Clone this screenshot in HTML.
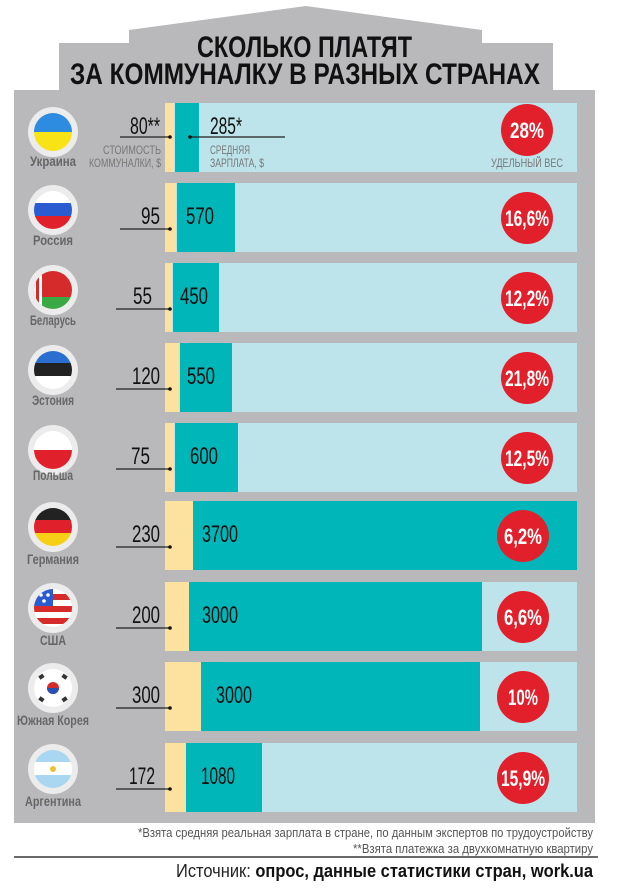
<!DOCTYPE html>
<html><head><meta charset="utf-8"><style>
html,body{margin:0;padding:0;background:#fff;}
svg{display:block;font-family:"Liberation Sans",sans-serif;}
</style></head><body>
<svg width="620" height="891" viewBox="0 0 620 891" xmlns="http://www.w3.org/2000/svg">
<defs>
<clipPath id="fc"><circle cx="0" cy="0" r="19"/></clipPath>
</defs>
<polygon points="129,30 306,6 482,30 482,43 553,43 553,90 595,90 595,823 14,823 14,90 59,90 59,43 129,43" fill="#b9b9bb"/>
<text x="197" y="57" font-size="30" font-weight="bold" fill="#111" textLength="215" lengthAdjust="spacingAndGlyphs">СКОЛЬКО ПЛАТЯТ</text>
<text x="70" y="84" font-size="30" font-weight="bold" fill="#111" textLength="470" lengthAdjust="spacingAndGlyphs">ЗА КОММУНАЛКУ В РАЗНЫХ СТРАНАХ</text>

<g transform="translate(0,103)">
<rect x="165" y="0" width="412" height="69" fill="#bde4ea"/>
<rect x="165" y="0" width="9" height="69" fill="#fde19e"/>
<rect x="175" y="0" width="24" height="69" fill="#00b6b9"/>
<text x="160" y="31" font-size="24" text-anchor="end" fill="#111" textLength="30" lengthAdjust="spacingAndGlyphs">80**</text>
<line x1="120" y1="34" x2="170" y2="34" stroke="#222" stroke-width="1.3"/><circle cx="170" cy="34" r="1.8" fill="#111"/>
<text x="210" y="31" font-size="24" fill="#111" textLength="32" lengthAdjust="spacingAndGlyphs">285*</text>
<line x1="190" y1="34" x2="285" y2="34" stroke="#222" stroke-width="1.3"/><circle cx="190" cy="34" r="1.8" fill="#111"/>
<text x="161" y="51" font-size="12" text-anchor="end" fill="#777" textLength="58" lengthAdjust="spacingAndGlyphs">СТОИМОСТЬ</text>
<text x="161" y="64" font-size="12" text-anchor="end" fill="#777" textLength="72" lengthAdjust="spacingAndGlyphs">КОММУНАЛКИ, $</text>
<text x="210" y="51" font-size="12" fill="#777" textLength="40" lengthAdjust="spacingAndGlyphs">СРЕДНЯЯ</text>
<text x="210" y="64" font-size="12" fill="#777" textLength="54" lengthAdjust="spacingAndGlyphs">ЗАРПЛАТА, $</text>
<circle cx="527" cy="27" r="26" fill="#e2202b"/>
<text x="527" y="35" font-size="22" font-weight="bold" fill="#fff" text-anchor="middle" textLength="34" lengthAdjust="spacingAndGlyphs">28%</text>
<text x="527" y="64" font-size="12" fill="#777" text-anchor="middle" textLength="72" lengthAdjust="spacingAndGlyphs">УДЕЛЬНЫЙ ВЕС</text>
<circle cx="53" cy="29" r="25" fill="#ececec"/>
<g transform="translate(53,29)" clip-path="url(#fc)"><rect x="-20" y="-20" width="40" height="20" fill="#2d8be0"/><rect x="-20" y="0" width="40" height="20" fill="#f7e316"/></g>
<text x="53" y="63" font-size="14" font-weight="bold" fill="#666" text-anchor="middle" textLength="46" lengthAdjust="spacingAndGlyphs">Украина</text>
</g>

<g transform="translate(0,183)">
<rect x="165" y="0" width="412" height="69" fill="#bde4ea"/><rect x="165" y="0" width="11" height="69" fill="#fde19e"/><rect x="177" y="0" width="58" height="69" fill="#00b6b9"/>
<text x="160" y="41" font-size="24" text-anchor="end" fill="#111" textLength="19" lengthAdjust="spacingAndGlyphs">95</text>
<line x1="120" y1="46" x2="170" y2="46" stroke="#222" stroke-width="1.3"/><circle cx="170" cy="46" r="1.8" fill="#111"/>
<text x="186" y="41" font-size="24" fill="#111" textLength="28" lengthAdjust="spacingAndGlyphs">570</text>
<circle cx="527" cy="35" r="26" fill="#e2202b"/><text x="527" y="43" font-size="22" font-weight="bold" fill="#fff" text-anchor="middle" textLength="44" lengthAdjust="spacingAndGlyphs">16,6%</text>
<circle cx="53" cy="27" r="25" fill="#ececec"/>
<g transform="translate(53,27)" clip-path="url(#fc)"><rect x="-20" y="-20" width="40" height="14" fill="#fff"/><rect x="-20" y="-7" width="40" height="14" fill="#2a5bd0"/><rect x="-20" y="6" width="40" height="14" fill="#e0202a"/></g>
<text x="53" y="62" font-size="14" font-weight="bold" fill="#666" text-anchor="middle" textLength="40" lengthAdjust="spacingAndGlyphs">Россия</text>
</g>

<g transform="translate(0,263)">
<rect x="165" y="0" width="412" height="69" fill="#bde4ea"/><rect x="165" y="0" width="7" height="69" fill="#fde19e"/><rect x="173" y="0" width="46" height="69" fill="#00b6b9"/>
<text x="152" y="41" font-size="24" text-anchor="end" fill="#111" textLength="19" lengthAdjust="spacingAndGlyphs">55</text>
<line x1="116" y1="46" x2="170" y2="46" stroke="#222" stroke-width="1.3"/><circle cx="170" cy="46" r="1.8" fill="#111"/>
<text x="180" y="41" font-size="24" fill="#111" textLength="28" lengthAdjust="spacingAndGlyphs">450</text>
<circle cx="527" cy="35" r="26" fill="#e2202b"/><text x="527" y="43" font-size="22" font-weight="bold" fill="#fff" text-anchor="middle" textLength="44" lengthAdjust="spacingAndGlyphs">12,2%</text>
<circle cx="53" cy="27" r="25" fill="#ececec"/>
<g transform="translate(53,27)" clip-path="url(#fc)"><rect x="-20" y="-20" width="40" height="27" fill="#d52b2b"/><rect x="-20" y="7" width="40" height="13" fill="#3aa843"/><rect x="-20" y="-20" width="9" height="40" fill="#fff"/><rect x="-17" y="-20" width="3" height="40" fill="#d52b2b"/></g>
<text x="53" y="62" font-size="14" font-weight="bold" fill="#666" text-anchor="middle" textLength="46" lengthAdjust="spacingAndGlyphs">Беларусь</text>
</g>

<g transform="translate(0,343)">
<rect x="165" y="0" width="412" height="69" fill="#bde4ea"/><rect x="165" y="0" width="14" height="69" fill="#fde19e"/><rect x="180" y="0" width="52" height="69" fill="#00b6b9"/>
<text x="160" y="41" font-size="24" text-anchor="end" fill="#111" textLength="28" lengthAdjust="spacingAndGlyphs">120</text>
<line x1="116" y1="46" x2="170" y2="46" stroke="#222" stroke-width="1.3"/><circle cx="170" cy="46" r="1.8" fill="#111"/>
<text x="187" y="41" font-size="24" fill="#111" textLength="28" lengthAdjust="spacingAndGlyphs">550</text>
<circle cx="527" cy="35" r="26" fill="#e2202b"/><text x="527" y="43" font-size="22" font-weight="bold" fill="#fff" text-anchor="middle" textLength="44" lengthAdjust="spacingAndGlyphs">21,8%</text>
<circle cx="53" cy="27" r="25" fill="#ececec"/>
<g transform="translate(53,27)" clip-path="url(#fc)"><rect x="-20" y="-20" width="40" height="14" fill="#2a6fd0"/><rect x="-20" y="-7" width="40" height="14" fill="#222"/><rect x="-20" y="6" width="40" height="14" fill="#fff"/></g>
<text x="53" y="62" font-size="14" font-weight="bold" fill="#666" text-anchor="middle" textLength="42" lengthAdjust="spacingAndGlyphs">Эстония</text>
</g>

<g transform="translate(0,423)">
<rect x="165" y="0" width="412" height="69" fill="#bde4ea"/><rect x="165" y="0" width="9" height="69" fill="#fde19e"/><rect x="175" y="0" width="63" height="69" fill="#00b6b9"/>
<text x="150" y="41" font-size="24" text-anchor="end" fill="#111" textLength="19" lengthAdjust="spacingAndGlyphs">75</text>
<line x1="116" y1="46" x2="170" y2="46" stroke="#222" stroke-width="1.3"/><circle cx="170" cy="46" r="1.8" fill="#111"/>
<text x="190" y="41" font-size="24" fill="#111" textLength="28" lengthAdjust="spacingAndGlyphs">600</text>
<circle cx="527" cy="35" r="26" fill="#e2202b"/><text x="527" y="43" font-size="22" font-weight="bold" fill="#fff" text-anchor="middle" textLength="44" lengthAdjust="spacingAndGlyphs">12,5%</text>
<circle cx="53" cy="27" r="25" fill="#ececec"/>
<g transform="translate(53,27)" clip-path="url(#fc)"><rect x="-20" y="-20" width="40" height="20" fill="#fff"/><rect x="-20" y="0" width="40" height="20" fill="#e0202a"/></g>
<text x="53" y="57" font-size="14" font-weight="bold" fill="#666" text-anchor="middle" textLength="40" lengthAdjust="spacingAndGlyphs">Польша</text>
</g>

<g transform="translate(0,501)">
<rect x="165" y="0" width="412" height="69" fill="#bde4ea"/><rect x="165" y="0" width="28" height="69" fill="#fde19e"/><rect x="193" y="0" width="384" height="69" fill="#00b6b9"/>
<text x="160" y="41" font-size="24" text-anchor="end" fill="#111" textLength="28" lengthAdjust="spacingAndGlyphs">230</text>
<line x1="116" y1="46" x2="170" y2="46" stroke="#222" stroke-width="1.3"/><circle cx="170" cy="46" r="1.8" fill="#111"/>
<text x="202" y="41" font-size="24" fill="#111" textLength="36" lengthAdjust="spacingAndGlyphs">3700</text>
<circle cx="523" cy="35" r="26" fill="#e2202b"/><text x="523" y="43" font-size="22" font-weight="bold" fill="#fff" text-anchor="middle" textLength="38" lengthAdjust="spacingAndGlyphs">6,2%</text>
<circle cx="53" cy="26" r="25" fill="#ececec"/>
<g transform="translate(53,26)" clip-path="url(#fc)"><rect x="-20" y="-20" width="40" height="14" fill="#222"/><rect x="-20" y="-7" width="40" height="14" fill="#e0202a"/><rect x="-20" y="6" width="40" height="14" fill="#f7cf16"/></g>
<text x="53" y="63" font-size="14" font-weight="bold" fill="#666" text-anchor="middle" textLength="52" lengthAdjust="spacingAndGlyphs">Германия</text>
</g>

<g transform="translate(0,582)">
<rect x="165" y="0" width="412" height="69" fill="#bde4ea"/><rect x="165" y="0" width="24" height="69" fill="#fde19e"/><rect x="189" y="0" width="293" height="69" fill="#00b6b9"/>
<text x="160" y="41" font-size="24" text-anchor="end" fill="#111" textLength="28" lengthAdjust="spacingAndGlyphs">200</text>
<line x1="116" y1="46" x2="170" y2="46" stroke="#222" stroke-width="1.3"/><circle cx="170" cy="46" r="1.8" fill="#111"/>
<text x="202" y="41" font-size="24" fill="#111" textLength="36" lengthAdjust="spacingAndGlyphs">3000</text>
<circle cx="523" cy="35" r="26" fill="#e2202b"/><text x="523" y="43" font-size="22" font-weight="bold" fill="#fff" text-anchor="middle" textLength="38" lengthAdjust="spacingAndGlyphs">6,6%</text>
<circle cx="53" cy="26" r="25" fill="#ececec"/>
<g transform="translate(53,26)" clip-path="url(#fc)"><rect x="-20" y="-20" width="40" height="40" fill="#fff"/><rect x="-20" y="-14" width="40" height="6" fill="#d52b2b"/><rect x="-20" y="-2" width="40" height="6" fill="#d52b2b"/><rect x="-20" y="10" width="40" height="6" fill="#d52b2b"/><rect x="-20" y="-20" width="20" height="18" fill="#2a5bd0"/><circle cx="-12" cy="-13" r="1.8" fill="#fff"/><circle cx="-5" cy="-13" r="1.8" fill="#fff"/><circle cx="-9" cy="-7" r="1.8" fill="#fff"/></g>
<text x="53" y="63" font-size="14" font-weight="bold" fill="#666" text-anchor="middle" textLength="26" lengthAdjust="spacingAndGlyphs">США</text>
</g>

<g transform="translate(0,662)">
<rect x="165" y="0" width="412" height="69" fill="#bde4ea"/><rect x="165" y="0" width="36" height="69" fill="#fde19e"/><rect x="201" y="0" width="279" height="69" fill="#00b6b9"/>
<text x="160" y="41" font-size="24" text-anchor="end" fill="#111" textLength="28" lengthAdjust="spacingAndGlyphs">300</text>
<line x1="116" y1="46" x2="170" y2="46" stroke="#222" stroke-width="1.3"/><circle cx="170" cy="46" r="1.8" fill="#111"/>
<text x="216" y="41" font-size="24" fill="#111" textLength="36" lengthAdjust="spacingAndGlyphs">3000</text>
<circle cx="523" cy="35" r="26" fill="#e2202b"/><text x="523" y="43" font-size="22" font-weight="bold" fill="#fff" text-anchor="middle" textLength="30" lengthAdjust="spacingAndGlyphs">10%</text>
<circle cx="53" cy="26" r="25" fill="#ececec"/>
<g transform="translate(53,26)" clip-path="url(#fc)"><rect x="-20" y="-20" width="40" height="40" fill="#fff"/><circle r="6" fill="#d52b2b"/><path d="M-6,0 A6,6 0 0,0 6,0 Z" fill="#2a4fb0"/><rect x="-14" y="-13" width="5" height="4" fill="#333" transform="rotate(-35 -12 -11)"/><rect x="9" y="-13" width="5" height="4" fill="#333" transform="rotate(35 12 -11)"/><rect x="-14" y="9" width="5" height="4" fill="#333" transform="rotate(35 -12 11)"/><rect x="9" y="9" width="5" height="4" fill="#333" transform="rotate(-35 12 11)"/></g>
<text x="53" y="63" font-size="14" font-weight="bold" fill="#666" text-anchor="middle" textLength="72" lengthAdjust="spacingAndGlyphs">Южная Корея</text>
</g>

<g transform="translate(0,743)">
<rect x="165" y="0" width="412" height="69" fill="#bde4ea"/><rect x="165" y="0" width="21" height="69" fill="#fde19e"/><rect x="186" y="0" width="76" height="69" fill="#00b6b9"/>
<text x="155" y="41" font-size="24" text-anchor="end" fill="#111" textLength="26" lengthAdjust="spacingAndGlyphs">172</text>
<line x1="116" y1="46" x2="170" y2="46" stroke="#222" stroke-width="1.3"/><circle cx="170" cy="46" r="1.8" fill="#111"/>
<text x="201" y="41" font-size="24" fill="#111" textLength="34" lengthAdjust="spacingAndGlyphs">1080</text>
<circle cx="523" cy="35" r="26" fill="#e2202b"/><text x="523" y="43" font-size="22" font-weight="bold" fill="#fff" text-anchor="middle" textLength="44" lengthAdjust="spacingAndGlyphs">15,9%</text>
<circle cx="53" cy="26" r="25" fill="#ececec"/>
<g transform="translate(53,26)" clip-path="url(#fc)"><rect x="-20" y="-20" width="40" height="14" fill="#a9d6f0"/><rect x="-20" y="-7" width="40" height="14" fill="#fff"/><rect x="-20" y="6" width="40" height="14" fill="#a9d6f0"/><circle r="3" fill="#f0c030"/></g>
<text x="53" y="63" font-size="14" font-weight="bold" fill="#666" text-anchor="middle" textLength="56" lengthAdjust="spacingAndGlyphs">Аргентина</text>
</g>

<text x="593" y="837" font-size="13" fill="#555" text-anchor="end" textLength="455" lengthAdjust="spacingAndGlyphs">*Взята средняя реальная зарплата в стране, по данным экспертов по трудоустройству</text>
<text x="593" y="853" font-size="13" fill="#555" text-anchor="end" textLength="240" lengthAdjust="spacingAndGlyphs">**Взята платежка за двухкомнатную квартиру</text>
<line x1="14" y1="857" x2="598" y2="857" stroke="#111" stroke-width="1.2"/>
<text x="593" y="877" font-size="18" fill="#222" text-anchor="end" textLength="417" lengthAdjust="spacingAndGlyphs">Источник: <tspan font-weight="bold" fill="#111">опрос, данные статистики стран, work.ua</tspan></text>
</svg>
</body></html>
